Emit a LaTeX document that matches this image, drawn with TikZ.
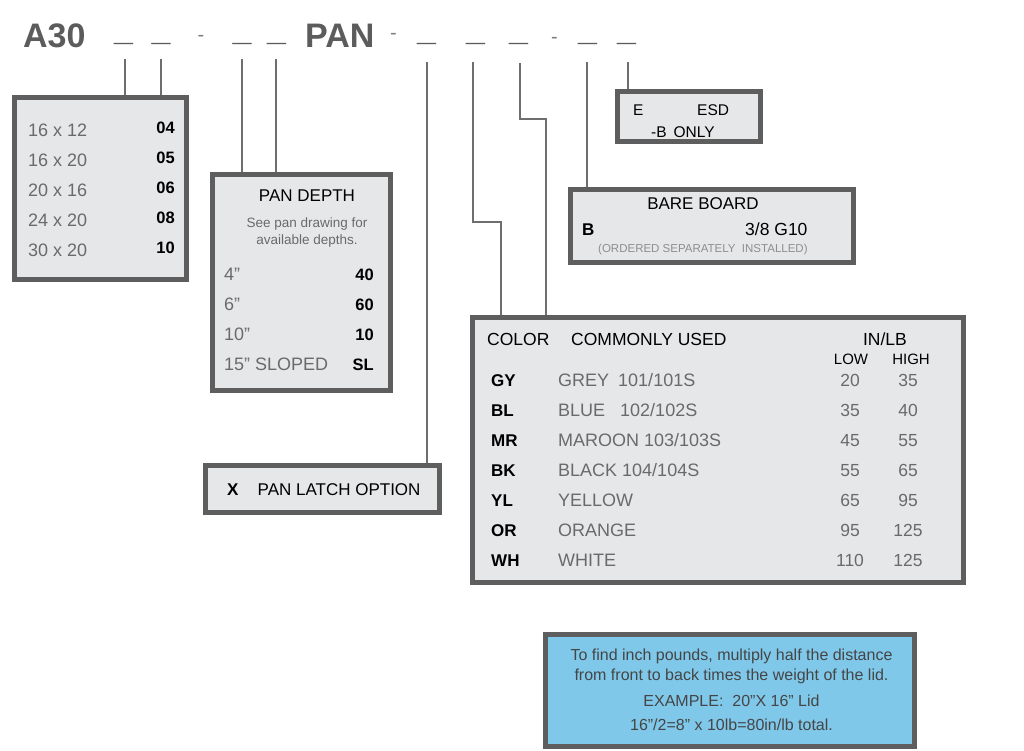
\documentclass[tikz,border=0pt]{standalone}
\usepackage{fontspec}
\setmainfont{Liberation Sans}
\definecolor{bordergrey}{HTML}{5E5E5E}
\definecolor{boxfill}{HTML}{E6E7E8}
\definecolor{txtgrey}{HTML}{6A6A6A}
\definecolor{lightgrey}{HTML}{8E8E8E}
\definecolor{linegrey}{HTML}{6E6E6E}
\definecolor{titlegrey}{HTML}{5C5C5C}
\definecolor{bluefill}{HTML}{7FC8EA}
\definecolor{bluetxt}{HTML}{454545}
\newcommand{\fsz}[1]{\fontsize{#1}{#1}\selectfont}
\begin{document}
\begin{tikzpicture}[x=1pt,y=-1pt,
  box/.style={draw=bordergrey, line width=5pt, fill=boxfill, rectangle, inner sep=0pt, anchor=north west},
  bluebox/.style={box, fill=bluefill},
  conn/.style={draw=linegrey, line width=1.5pt},
  ttl/.style={text=titlegrey, font=\fsz{34}\bfseries, inner sep=0pt, anchor=base west},
  under/.style={text=titlegrey, font=\fsz{34}\bfseries, inner sep=0pt, anchor=base},
  dsh/.style={text=titlegrey!80, font=\fsz{20}, inner sep=0pt, anchor=base},
  gt/.style={text=txtgrey, font=\fsz{18}, inner sep=0pt, anchor=base west},
  code/.style={text=black, font=\fsz{16.5}\bfseries, inner sep=0pt, anchor=base east},
  hd/.style={text=black, font=\fsz{17}, inner sep=0pt, anchor=base west},
  note/.style={text=txtgrey, font=\fsz{13.5}, inner sep=0pt, anchor=base},
  small/.style={text=lightgrey, font=\fsz{11.5}, inner sep=0pt, anchor=base west},
  num/.style={text=txtgrey, font=\fsz{17.5}, inner sep=0pt, anchor=base},
  bt/.style={text=bluetxt, font=\fsz{16}, inner sep=0pt, anchor=base}
]
\useasboundingbox (0,0) rectangle (1024,750);

% ---- part number line ----
\node[ttl] (a30) at (23,47) {A30};
\node[ttl] (pan) at (305,47) {PAN};
\node[under] (u1) at (123.5,40) {\_};
\node[under] (u2) at (161,40) {\_};
\node[dsh] (d1) at (201,41.5) {-};
\node[under] (u3) at (242,40) {\_};
\node[under] (u4) at (276.5,40) {\_};
\node[dsh] (d2) at (393.5,39.5) {-};
\node[under] (u5) at (426.5,40) {\_};
\node[under] (u6) at (475.5,40) {\_};
\node[under] (u7) at (518.5,40) {\_};
\node[dsh] (d3) at (554.5,43.5) {-};
\node[under] (u8) at (587.5,40) {\_};
\node[under] (u9) at (626.5,40) {\_};

% ---- boxes ----
\node[box, minimum width=172, minimum height=182] (sizes) at (12,95) {};
\node[box, minimum width=178, minimum height=216] (depth) at (210,172) {};
\node[box, minimum width=143, minimum height=50] (esd) at (615,89) {};
\node[box, minimum width=283, minimum height=73] (bare) at (568,187) {};
\node[box, minimum width=491, minimum height=265] (color) at (470,315) {};
\node[box, minimum width=234, minimum height=47] (latch) at (203,463) {};
\node[bluebox, minimum width=369, minimum height=112] (note) at (543,632) {};

% ---- connectors ----
\coordinate (c1) at (125,59);
\coordinate (c2) at (161,59);
\coordinate (c3) at (242,59);
\coordinate (c4) at (276,59);
\coordinate (c5) at (427,62);
\coordinate (c6) at (473,62);
\coordinate (c7) at (520,63);
\coordinate (c8) at (587,62);
\coordinate (c9) at (628,62);
\coordinate (k6) at (501,222);
\coordinate (k7) at (546,119);
\draw[conn] (c1) -- (c1 |- sizes.north);
\draw[conn] (c2) -- (c2 |- sizes.north);
\draw[conn] (c3) -- (c3 |- depth.north);
\draw[conn] (c4) -- (c4 |- depth.north);
\draw[conn] (c5) -- (c5 |- latch.north);
\draw[conn] (c6) |- (k6) -- (k6 |- color.north);
\draw[conn] (c7) |- (k7) -- (k7 |- color.north);
\draw[conn] (c8) -- (c8 |- bare.north);
\draw[conn] (c9) -- (c9 |- esd.north);

% ---- sizes box ----
\node[gt] (s1) at (28,136) {16 x 12};
\node[gt] (s2) at (28,166) {16 x 20};
\node[gt] (s3) at (28,196) {20 x 16};
\node[gt] (s4) at (28,226) {24 x 20};
\node[gt] (s5) at (28,256) {30 x 20};
\node[code] (sc1) at (175,133) {04};
\node[code] (sc2) at (175,163) {05};
\node[code] (sc3) at (175,193) {06};
\node[code] (sc4) at (175,223) {08};
\node[code] (sc5) at (175,253) {10};

% ---- depth box ----
\node[hd, anchor=base] (dt) at (307,201) {PAN DEPTH};
\node[note] (dn1) at (307,227) {See pan drawing for};
\node[note] (dn2) at (307,244) {available depths.};
\node[gt] (d40) at (224,280) {4”};
\node[gt] (d60) at (224,310) {6”};
\node[gt] (d10) at (224,340) {10”};
\node[gt] (dsl) at (224,370) {15” SLOPED};
\node[code] (dc1) at (374,280) {40};
\node[code] (dc2) at (374,310) {60};
\node[code] (dc3) at (374,340) {10};
\node[code] (dc4) at (374,370) {SL};

% ---- ESD box ----
\node[hd, font=\fsz{15.5}] (esde) at (633,115) {E};
\node[hd, font=\fsz{15.5}] (esdt) at (697,115) {ESD};
\node[hd, font=\fsz{15.5}] (esdb) at (651,137) {-B\, ONLY};

% ---- bare board box ----
\node[hd, anchor=base] (bbt) at (703,209) {BARE BOARD};
\node[hd, font=\fsz{17}\bfseries] (bbb) at (582,235) {B};
\node[hd, font=\fsz{17.5}] (bbg) at (745,235) {3/8 G10};
\node[small] (bbs) at (598,252) {(ORDERED SEPARATELY\ \ INSTALLED)};

% ---- color box ----
\node[hd, font=\fsz{17.5}] (ch1) at (487,345) {COLOR};
\node[hd, font=\fsz{17.5}] (ch2) at (571,345) {COMMONLY USED};
\node[hd, font=\fsz{17.5}, anchor=base] (ch3) at (885,345) {IN/LB};
\node[hd, font=\fsz{15}, anchor=base] (ch4) at (851,364) {LOW};
\node[hd, font=\fsz{15}, anchor=base] (ch5) at (911,364) {HIGH};
\foreach \i/\c/\n/\lo/\hi in {0/GY/{GREY \hspace{4pt}101/101S}/20/35,
                              1/BL/{BLUE \hspace{10pt}102/102S}/35/40,
                              2/MR/{MAROON 103/103S}/45/55,
                              3/BK/{BLACK 104/104S}/55/65,
                              4/YL/{YELLOW}/65/95,
                              5/OR/{ORANGE}/95/125,
                              6/WH/{WHITE}/110/125}{
  \node[code, anchor=base west, font=\fsz{17}\bfseries] (cc\i) at (491,386+30.1*\i) {\c};
  \node[gt] (cn\i) at (558,386+30.1*\i) {\n};
  \node[num] (cl\i) at (850,386+30.1*\i) {\lo};
  \node[num] (chh\i) at (908,386+30.1*\i) {\hi};
}

% ---- latch box ----
\node[hd, font=\fsz{17}\bfseries] (lx) at (227,495) {X};
\node[hd] (lt) at (257.5,495) {PAN LATCH OPTION};

% ---- note box ----
\node[bt] (b1) at (731.5,660) {To find inch pounds, multiply half the distance};
\node[bt] (b2) at (731.5,680) {from front to back times the weight of the lid.};
\node[bt] (b3) at (731.5,706.5) {EXAMPLE:\ \ 20”X 16” Lid};
\node[bt] (b4) at (731.5,730) {16”/2=8” x 10lb=80in/lb total.};
\end{tikzpicture}
\end{document}
